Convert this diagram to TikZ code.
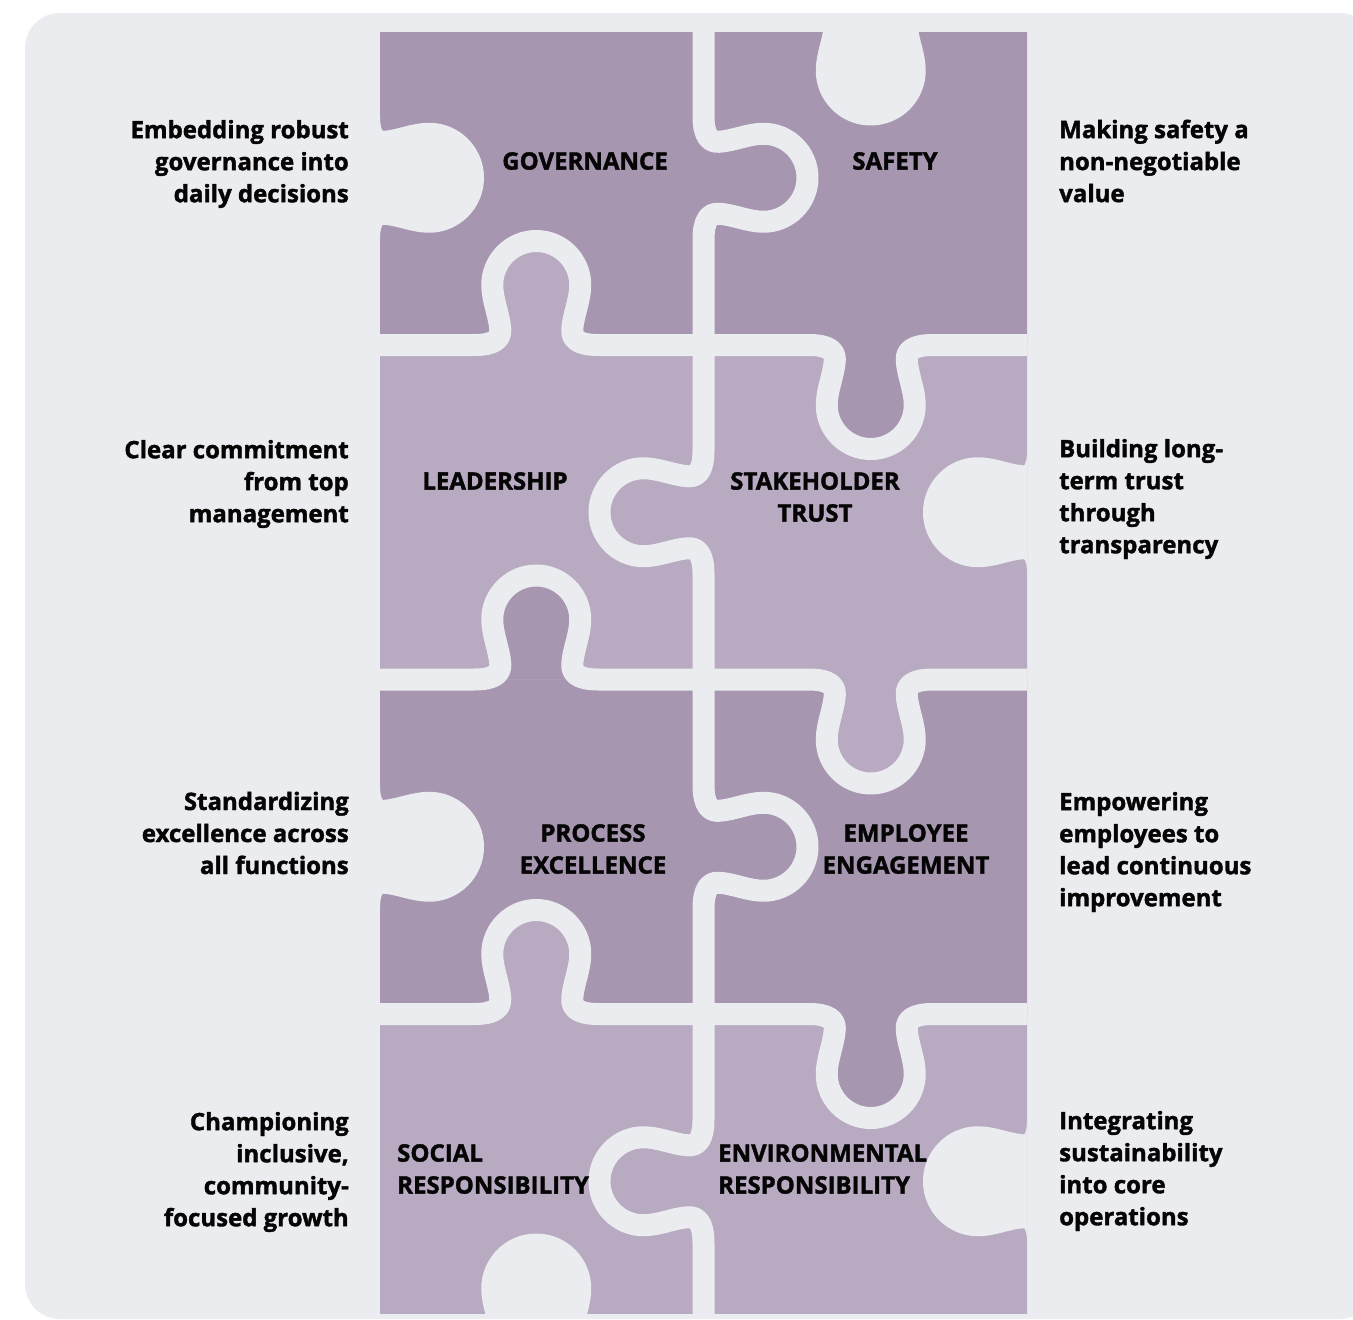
\documentclass[tikz,border=0pt]{standalone}
\usepackage{fontspec}
\setmainfont{Open Sans}[BoldFeatures={FakeBold=1.6}]
\definecolor{bgc}{HTML}{EBECF0}
\definecolor{pdark}{HTML}{A696B0}
\definecolor{plight}{HTML}{B8AAC0}
\definecolor{txt}{HTML}{050505}
% horizontal edge tab: centre x, edge y, direction (+1 down, -1 up)
\newcommand\pzH[3]{-- ({#1-62},{#2}) .. controls ({#1-42},{#2}) and ({#1-35},{#2+(#3)*6}) .. ({#1-36},{#2+(#3)*16}) .. controls ({#1-37},{#2+(#3)*30}) and ({#1-44},{#2+(#3)*45}) .. ({#1-44},{#2+(#3)*60}) .. controls ({#1-44},{#2+(#3)*84.3}) and ({#1-24.3},{#2+(#3)*104}) .. ({#1},{#2+(#3)*104}) .. controls ({#1+24.3},{#2+(#3)*104}) and ({#1+44},{#2+(#3)*84.3}) .. ({#1+44},{#2+(#3)*60}) .. controls ({#1+44},{#2+(#3)*45}) and ({#1+37},{#2+(#3)*30}) .. ({#1+36},{#2+(#3)*16}) .. controls ({#1+35},{#2+(#3)*6}) and ({#1+42},{#2}) .. ({#1+62},{#2})}
% vertical edge tab: edge x, centre y, direction (+1 right, -1 left)
\newcommand\pzV[3]{-- ({#1},{#2-62}) .. controls ({#1},{#2-42}) and ({#1+(#3)*6},{#2-35}) .. ({#1+(#3)*16},{#2-36}) .. controls ({#1+(#3)*30},{#2-37}) and ({#1+(#3)*45},{#2-44}) .. ({#1+(#3)*60},{#2-44}) .. controls ({#1+(#3)*84.3},{#2-44}) and ({#1+(#3)*104},{#2-24.3}) .. ({#1+(#3)*104},{#2}) .. controls ({#1+(#3)*104},{#2+24.3}) and ({#1+(#3)*84.3},{#2+44}) .. ({#1+(#3)*60},{#2+44}) .. controls ({#1+(#3)*45},{#2+44}) and ({#1+(#3)*30},{#2+37}) .. ({#1+(#3)*16},{#2+36}) .. controls ({#1+(#3)*6},{#2+35}) and ({#1},{#2+42}) .. ({#1},{#2+62})}
\tikzset{
  cut/.style={draw=bgc, line width=22pt, line join=round},
  hole/.style={fill=bgc, draw=bgc, line width=22pt, line join=round},
  sidetxt/.style={font=\bfseries\fontsize{24}{32}\selectfont, text=txt, inner sep=0pt},
  lefttxt/.style={sidetxt, anchor=east, align=right},
  righttxt/.style={sidetxt, anchor=west, align=left},
  piecetxt/.style={font=\bfseries\fontsize{24}{32}\selectfont, text=txt, inner sep=0pt, align=center},
}
\begin{document}
\begin{tikzpicture}[x=1pt,y=-1pt]
\useasboundingbox (0,0) rectangle (1353,1320);
\clip (0,0) rectangle (1353,1320);
\fill[white] (0,0) rectangle (1353,1320);
\fill[bgc, rounded corners=35pt] (25,13) rectangle (1375,1319);
\begin{scope}
\clip (380,32) rectangle (1027,1313);
\fill[pdark] (369,10.5) rectangle (1038,345);
\fill[plight] (369,345) rectangle (1038,679.5);
\fill[pdark] (369,679.5) rectangle (1038,1014);
\fill[plight] (369,1014) rectangle (1038,1348.5);
% tabs
\fill[plight] (474.25,345) \pzH{536.25}{345}{-1} -- cycle;
\fill[pdark] (808.75,345) \pzH{870.75}{345}{1} -- cycle;
\fill[pdark] (474.25,679.5) \pzH{536.25}{679.5}{-1} -- cycle;
\fill[plight] (808.75,679.5) \pzH{870.75}{679.5}{1} -- cycle;
\fill[plight] (474.25,1014) \pzH{536.25}{1014}{-1} -- cycle;
\fill[pdark] (808.75,1014) \pzH{870.75}{1014}{1} -- cycle;
% cut lines
\draw[cut] (369,345) \pzH{536.25}{345}{-1} -- (703.5,345) \pzH{870.75}{345}{1} -- (1038,345);
\draw[cut] (369,679.5) \pzH{536.25}{679.5}{-1} -- (703.5,679.5) \pzH{870.75}{679.5}{1} -- (1038,679.5);
\draw[cut] (369,1014) \pzH{536.25}{1014}{-1} -- (703.5,1014) \pzH{870.75}{1014}{1} -- (1038,1014);
\draw[cut] (703.5,10.5) \pzV{703.5}{177.75}{1} -- (703.5,345) \pzV{703.5}{512.25}{-1} -- (703.5,679.5) \pzV{703.5}{846.75}{1} -- (703.5,1014) \pzV{703.5}{1181.25}{-1} -- (703.5,1348.5);
% outer holes
\filldraw[hole] (369,115.75) \pzV{369}{177.75}{1} -- cycle;
\filldraw[hole] (369,784.75) \pzV{369}{846.75}{1} -- cycle;
\filldraw[hole] (808.75,10.5) \pzH{870.75}{10.5}{1} -- cycle;
\filldraw[hole] (1038,450.25) \pzV{1038}{512.25}{-1} -- cycle;
\filldraw[hole] (1038,1119.25) \pzV{1038}{1181.25}{-1} -- cycle;
\filldraw[hole] (474.25,1348.5) \pzH{536.25}{1348.5}{-1} -- cycle;
\end{scope}
% piece labels
\node[piecetxt] (gov) at (585,161) {GOVERNANCE};
\node[piecetxt] (saf) at (895,161) {SAFETY};
\node[piecetxt] (lead) at (495,481) {LEADERSHIP};
\node[piecetxt] (stake) at (815,497) {STAKEHOLDER\\TRUST};
\node[piecetxt] (proc) at (593,849) {PROCESS\\EXCELLENCE};
\node[piecetxt] (emp) at (906,849) {EMPLOYEE\\ENGAGEMENT};
\node[piecetxt, anchor=west, align=left] (soc) at (397,1169) {SOCIAL\\RESPONSIBILITY};
\node[piecetxt, anchor=west, align=left] (env) at (718,1169) {ENVIRONMENTAL\\RESPONSIBILITY};
% side texts
\node[lefttxt] (t1) at (349,164) {Embedding robust\\governance into\\daily decisions};
\node[lefttxt] (t2) at (349,484) {Clear commitment\\from top\\management};
\node[lefttxt] (t3) at (349,833) {Standardizing\\excellence across\\all functions};
\node[lefttxt] (t4) at (349,1172) {Championing\\inclusive,\\community-\\focused growth};
\node[righttxt] (r1) at (1059,161) {Making safety a\\non-negotiable\\value};
\node[righttxt] (r2) at (1059,499) {Building long-\\term trust\\through\\transparency};
\node[righttxt] (r3) at (1059,852) {Empowering\\employees to\\lead continuous\\improvement};
\node[righttxt] (r4) at (1059,1171) {Integrating\\sustainability\\into core\\operations};
\end{tikzpicture}
\end{document}
